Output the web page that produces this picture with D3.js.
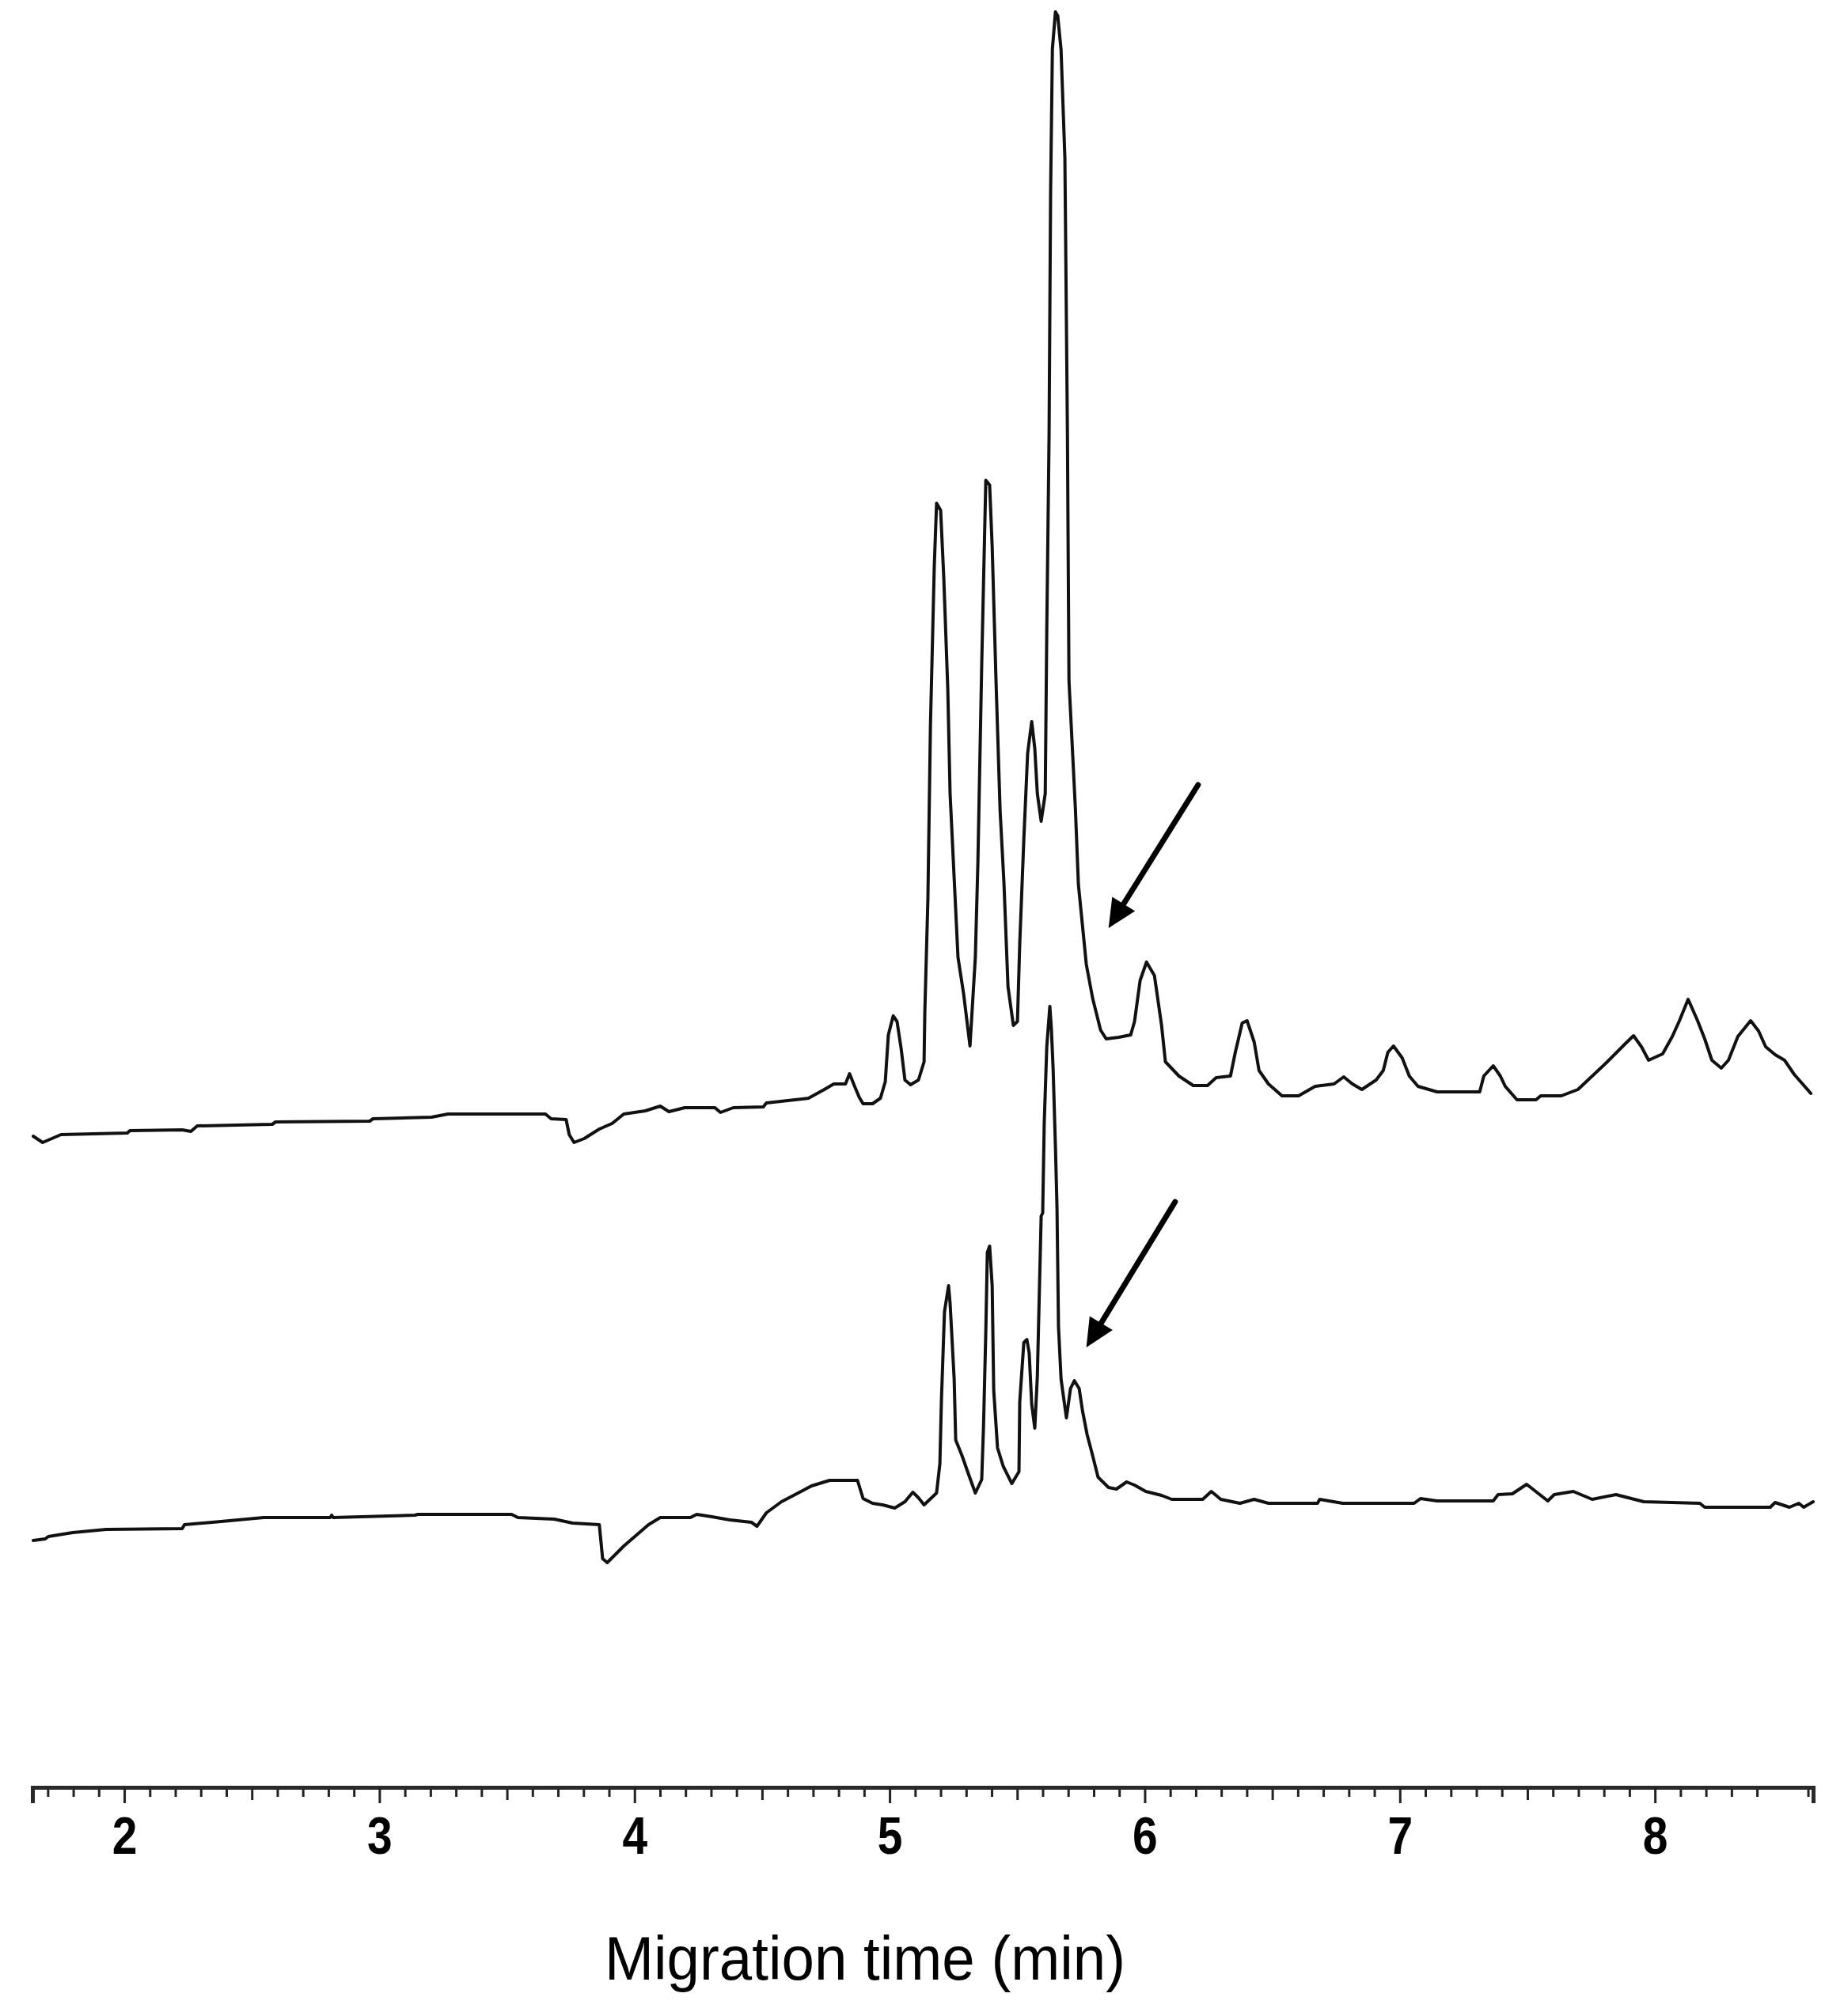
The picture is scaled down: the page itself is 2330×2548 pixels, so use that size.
<!DOCTYPE html>
<html>
<head>
<meta charset="utf-8">
<script src="https://cdn.jsdelivr.net/npm/d3@7/dist/d3.min.js"></script>
<style>
  html, body { margin: 0; padding: 0; background: #fff; }
  svg { display: block; }
</style>
</head>
<body>
<svg id="chart" width="2330" height="2548"></svg>
<script>
// ---- Data (migration time in min, detector signal in arbitrary units) ----
const topTime = [1.643,1.680,1.752,2.012,2.022,2.227,2.261,2.286,2.580,2.593,2.962,2.975,3.204,3.269,3.651,3.673,3.732,3.744,3.763,3.803,3.862,3.912,3.958,4.042,4.101,4.135,4.197,4.315,4.337,4.387,4.505,4.517,4.601,4.682,4.744,4.781,4.827,4.843,4.859,4.881,4.896,4.933,4.964,4.983,4.995,5.014,5.029,5.045,5.060,5.082,5.113,5.135,5.138,5.150,5.160,5.175,5.184,5.200,5.212,5.228,5.237,5.253,5.268,5.290,5.315,5.336,5.346,5.361,5.377,5.392,5.402,5.417,5.433,5.448,5.464,5.485,5.501,5.510,5.526,5.541,5.557,5.569,5.579,5.594,5.610,5.616,5.625,5.631,5.638,5.650,5.659,5.672,5.687,5.697,5.703,5.728,5.740,5.756,5.771,5.796,5.827,5.849,5.898,5.945,5.960,5.982,6.007,6.038,6.066,6.081,6.134,6.190,6.246,6.280,6.336,6.355,6.382,6.401,6.429,6.448,6.485,6.538,6.603,6.668,6.742,6.780,6.814,6.851,6.907,6.935,6.953,6.975,7.009,7.037,7.071,7.146,7.313,7.329,7.366,7.394,7.413,7.459,7.534,7.552,7.633,7.698,7.754,7.810,7.881,7.916,7.947,7.975,8.030,8.068,8.096,8.130,8.167,8.195,8.223,8.260,8.288,8.325,8.375,8.406,8.434,8.471,8.508,8.546,8.611];
const topSignal = [82.3,81.5,82.5,82.7,83.0,83.1,82.9,83.6,83.8,84.1,84.2,84.5,84.7,85.1,85.1,84.5,84.4,82.5,81.5,82.0,83.2,83.9,85.1,85.5,86.1,85.4,85.9,85.9,85.3,85.9,86.0,86.5,86.8,87.1,88.2,88.9,88.9,90.2,88.9,87.2,86.4,86.4,87.1,89.2,95.1,97.5,96.8,93.4,89.4,88.8,89.4,91.7,98.0,112.3,134.2,154.3,162.3,161.4,153.1,138.8,125.6,114.9,104.9,100.3,93.7,104.9,116.9,141.9,165.2,164.6,156.8,139.9,123.5,114.4,101.2,96.3,96.8,106.6,119.8,130.7,134.7,131.3,125.6,122.1,125.6,146.2,170.9,201.6,219.7,224.4,223.9,219.6,205.9,170.9,139.9,123.8,114.1,108.9,104.0,99.7,95.7,94.6,94.8,95.1,96.8,102.0,104.3,102.6,96.3,91.7,89.9,88.7,88.7,89.7,89.9,92.9,96.6,96.9,94.2,90.6,88.9,87.4,87.4,88.6,88.9,89.8,88.9,88.2,89.4,90.6,92.9,93.7,92.2,89.9,88.6,87.9,87.9,89.9,91.2,89.9,88.6,86.9,86.9,87.4,87.4,88.2,89.9,91.6,93.9,95.0,93.6,91.9,92.7,94.9,96.9,99.6,96.9,94.6,91.9,90.9,91.9,94.9,96.9,95.6,93.6,92.6,91.9,90.1,87.7];

const bottomTime = [1.643,1.690,1.702,1.798,1.929,2.227,2.236,2.379,2.546,2.807,2.813,2.819,3.139,3.151,3.518,3.543,3.685,3.757,3.862,3.875,3.893,3.958,4.055,4.101,4.219,4.244,4.303,4.374,4.458,4.480,4.517,4.576,4.694,4.765,4.874,4.896,4.933,4.973,5.020,5.060,5.091,5.113,5.135,5.184,5.197,5.203,5.215,5.231,5.237,5.253,5.259,5.284,5.309,5.336,5.361,5.368,5.377,5.383,5.392,5.402,5.408,5.423,5.445,5.479,5.507,5.510,5.526,5.538,5.547,5.557,5.569,5.579,5.594,5.600,5.606,5.616,5.628,5.634,5.641,5.650,5.656,5.662,5.672,5.693,5.709,5.724,5.743,5.756,5.774,5.796,5.817,5.858,5.889,5.929,5.960,6.004,6.066,6.106,6.227,6.261,6.298,6.373,6.429,6.485,6.677,6.686,6.776,7.056,7.081,7.146,7.366,7.385,7.441,7.497,7.580,7.605,7.680,7.754,7.847,7.956,8.176,8.195,8.452,8.471,8.527,8.564,8.583,8.620];
const bottomSignal = [31.2,31.4,31.7,32.2,32.6,32.7,33.2,33.6,34.1,34.1,34.4,34.1,34.4,34.5,34.5,34.1,33.9,33.4,33.2,28.9,28.4,30.5,33.2,34.1,34.1,34.5,34.2,33.8,33.5,33.0,34.7,36.1,38.1,38.8,38.8,36.5,35.9,35.7,35.3,36.1,37.3,36.6,35.7,37.2,40.9,48.9,60.1,63.4,61.2,51.6,43.9,41.9,39.6,37.2,38.9,45.6,57.6,67.6,68.4,63.4,50.2,42.9,40.6,38.4,39.9,48.7,56.2,56.6,54.9,48.4,45.4,51.9,72.2,72.6,83.9,93.6,98.7,95.9,90.7,80.9,73.4,58.2,51.6,46.7,50.4,51.4,50.4,47.6,44.6,41.9,39.2,37.9,37.7,38.6,38.2,37.4,36.9,36.4,36.4,37.4,36.4,35.9,36.4,35.9,35.9,36.4,35.9,35.9,36.5,36.2,36.2,37.0,37.1,38.3,36.2,37.0,37.4,36.4,37.0,36.1,35.9,35.4,35.4,36.0,35.4,35.9,35.4,36.1];

// Arrow annotations: tail (time, signal) -> tip (time, signal)
const arrowTailTime = [6.209, 6.119];
const arrowTailSignal = [126.7, 74.0];
const arrowTipTime = [5.858, 5.771];
const arrowTipSignal = [108.6, 55.6];

const majorTicks = [2, 3, 4, 5, 6, 7, 8];
const xTitle = "Migration time (min)";

// ---- Layout ----
const svg = d3.select("#chart");
const x = d3.scaleLinear().domain([1.64, 8.62]).range([41, 2291]);
const y = d3.scaleLinear().domain([0, 225.9]).range([2259, 0]);

const line = d3.line()
  .x(d => x(d[0]))
  .y(d => y(d[1]))
  .curve(d3.curveLinear);

const traces = [
  d3.zip(topTime, topSignal),
  d3.zip(bottomTime, bottomSignal)
];

svg.append("g").selectAll("path")
  .data(traces)
  .join("path")
  .attr("d", line)
  .attr("fill", "none")
  .attr("stroke", "#111")
  .attr("stroke-width", 4)
  .attr("stroke-linejoin", "round")
  .attr("stroke-linecap", "round");

// Arrows
const arrows = d3.range(arrowTailTime.length).map(i => ({
  x1: x(arrowTailTime[i]), y1: y(arrowTailSignal[i]),
  x2: x(arrowTipTime[i]), y2: y(arrowTipSignal[i])
}));
const headLen = 36, headHalf = 17;
const ag = svg.append("g");
arrows.forEach(a => {
  const dx = a.x2 - a.x1, dy = a.y2 - a.y1;
  const len = Math.hypot(dx, dy);
  const ux = dx / len, uy = dy / len;
  const bx = a.x2 - ux * headLen, by = a.y2 - uy * headLen;
  ag.append("line")
    .attr("x1", a.x1).attr("y1", a.y1)
    .attr("x2", bx + ux * 4).attr("y2", by + uy * 4)
    .attr("stroke", "#000").attr("stroke-width", 7)
    .attr("stroke-linecap", "round");
  ag.append("polygon")
    .attr("points", [
      [a.x2, a.y2],
      [bx - uy * headHalf, by + ux * headHalf],
      [bx + uy * headHalf, by - ux * headHalf]
    ].map(p => p.join(",")).join(" "))
    .attr("fill", "#000");
});

// X axis
const axisY = y(0);
const minorVals = d3.range(17, 87).map(v => v / 10).filter(v => Math.abs(v - Math.round(v)) > 1e-6 && Math.abs(v * 2 - Math.round(v * 2)) > 1e-6);
const halfVals = d3.range(2, 9).map(v => v - 0.5).filter(v => v > 1.64 && v < 8.62);

const gMinor = svg.append("g").attr("transform", `translate(0,${axisY})`)
  .call(d3.axisBottom(x).tickValues(minorVals).tickSize(12).tickFormat(""));
const gHalf = svg.append("g").attr("transform", `translate(0,${axisY})`)
  .call(d3.axisBottom(x).tickValues(halfVals).tickSize(16).tickFormat(""));
const gMajor = svg.append("g").attr("transform", `translate(0,${axisY})`)
  .call(d3.axisBottom(x).tickValues(majorTicks).tickSize(20).tickFormat(d3.format("d")));

[gMinor, gHalf, gMajor].forEach(g => {
  g.selectAll(".tick line").attr("stroke", "#222").attr("stroke-width", 3);
  g.select(".domain").attr("stroke", "none");
});
gMajor.select(".domain").attr("stroke", "#2a2a2a").attr("stroke-width", 5);

gMajor.selectAll(".tick text")
  .attr("y", 84)
  .attr("dy", 0)
  .attr("transform", "scale(0.85,1)")
  .attr("fill", "#000")
  .style("font-family", "'Liberation Sans', Arial, sans-serif")
  .style("font-weight", "bold")
  .style("font-size", "67px");

// Axis title
svg.append("text")
  .attr("x", 1093)
  .attr("y", 2502)
  .attr("text-anchor", "middle")
  .attr("textLength", 658)
  .attr("lengthAdjust", "spacingAndGlyphs")
  .style("font-family", "'Liberation Sans', Arial, sans-serif")
  .style("font-size", "77px")
  .attr("fill", "#000")
  .text(xTitle);
</script>
</body>
</html>
